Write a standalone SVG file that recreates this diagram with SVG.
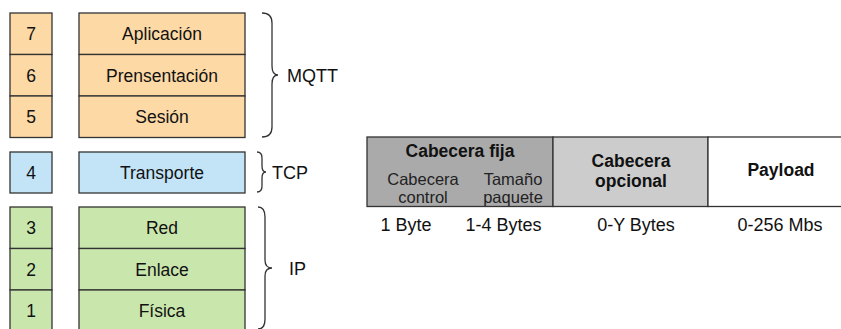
<svg xmlns="http://www.w3.org/2000/svg" width="841" height="329" viewBox="0 0 841 329">
<style>
.box{stroke:#333;stroke-width:1.3}
.or{fill:#FDD9A6}
.bl{fill:#C3E3F6}
.gr{fill:#C9E7AD}
.t{font-family:"Liberation Sans",Arial,sans-serif;font-size:17.5px;fill:#111;text-anchor:middle}
.l{font-family:"Liberation Sans",Arial,sans-serif;font-size:18px;fill:#111}
.b{font-family:"Liberation Sans",Arial,sans-serif;font-size:17.5px;font-weight:bold;fill:#111;text-anchor:middle}
.s{font-family:"Liberation Sans",Arial,sans-serif;font-size:16.5px;fill:#222;text-anchor:middle}
.v{font-family:"Liberation Sans",Arial,sans-serif;font-size:18px;fill:#111;text-anchor:middle}
.br{fill:none;stroke:#333;stroke-width:1.3}
</style>
<rect width="841" height="329" fill="#fff"/>
<g id="layer7">
<rect class="box or" x="10" y="13" width="42" height="41.5"/>
<rect class="box or" x="79" y="13" width="166" height="41.5"/>
<text class="t" x="31" y="40">7</text>
<text class="t" x="162" y="40">Aplicación</text>
</g>
<g id="layer6">
<rect class="box or" x="10" y="54.5" width="42" height="41.5"/>
<rect class="box or" x="79" y="54.5" width="166" height="41.5"/>
<text class="t" x="31" y="81.5">6</text>
<text class="t" x="162" y="81.5">Prensentación</text>
</g>
<g id="layer5">
<rect class="box or" x="10" y="96" width="42" height="41.5"/>
<rect class="box or" x="79" y="96" width="166" height="41.5"/>
<text class="t" x="31" y="123">5</text>
<text class="t" x="162" y="123">Sesión</text>
</g>
<g id="layer4">
<rect class="box bl" x="10" y="152" width="42" height="41"/>
<rect class="box bl" x="79" y="152" width="166" height="41"/>
<text class="t" x="31" y="178.5">4</text>
<text class="t" x="162" y="178.5">Transporte</text>
</g>
<g id="layer3">
<rect class="box gr" x="10" y="207" width="42" height="41.5"/>
<rect class="box gr" x="79" y="207" width="166" height="41.5"/>
<text class="t" x="31" y="234">3</text>
<text class="t" x="162" y="234">Red</text>
</g>
<g id="layer2">
<rect class="box gr" x="10" y="248.5" width="42" height="41.5"/>
<rect class="box gr" x="79" y="248.5" width="166" height="41.5"/>
<text class="t" x="31" y="275.5">2</text>
<text class="t" x="162" y="275.5">Enlace</text>
</g>
<g id="layer1">
<rect class="box gr" x="10" y="290" width="42" height="41.5"/>
<rect class="box gr" x="79" y="290" width="166" height="41.5"/>
<text class="t" x="31" y="317">1</text>
<text class="t" x="162" y="317">Física</text>
</g>
<g id="connectors">
<path class="br" d="M262,13 Q272,13 272,23 L272,66 Q272,75 278,75 Q272,75 272,84 L272,127 Q272,137 262,137"/>
<path class="br" d="M257,152 Q262,152 262,158 L262,166 Q262,172 266,172 Q262,172 262,178 L262,186 Q262,192 257,192"/>
<path class="br" d="M258,207 Q265,207 265,217 L265,260 Q265,268 272,268 Q265,268 265,276 L265,319 Q265,329 258,329"/>
</g>
<g id="label-mqtt"><text class="l" x="287" y="81.5">MQTT</text></g>
<g id="label-tcp"><text class="l" x="272" y="178.5">TCP</text></g>
<g id="label-ip"><text class="l" x="289" y="274.5">IP</text></g>
<g id="cabecera-fija">
<rect class="box" fill="#AAAAAA" x="367" y="137" width="186" height="69.5"/>
<text class="b" x="460" y="157">Cabecera fija</text>
<text class="s" x="423" y="185">Cabecera</text>
<text class="s" x="423" y="203">control</text>
<text class="s" x="513" y="185">Tamaño</text>
<text class="s" x="513" y="203">paquete</text>
</g>
<g id="cabecera-opcional">
<rect class="box" fill="#CCCCCC" x="553" y="137" width="155" height="69.5"/>
<text class="b" x="631" y="166.5">Cabecera</text>
<text class="b" x="631" y="187">opcional</text>
</g>
<g id="payload">
<rect class="box" fill="#FFFFFF" x="708" y="137" width="150" height="69.5"/>
<text class="b" x="781" y="176">Payload</text>
</g>
<g id="sizes">
<text class="v" x="406" y="231">1 Byte</text>
<text class="v" x="503.5" y="231">1-4 Bytes</text>
<text class="v" x="636" y="231">0-Y Bytes</text>
<text class="v" x="780" y="231">0-256 Mbs</text>
</g>
</svg>
